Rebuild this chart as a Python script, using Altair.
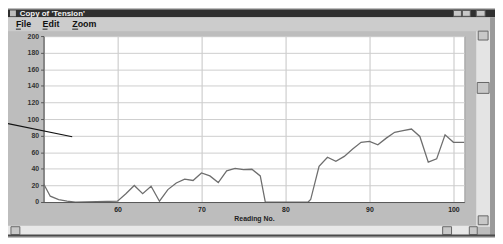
import altair as alt
import pandas as pd

# ---- data ----
readings = [51.2, 52, 53, 54, 55, 60, 61, 62, 63, 64, 65, 66, 67, 68, 69, 70,
            71, 72, 73, 74, 75, 76, 77, 77.6, 82.7, 83, 84, 85, 86, 87, 88, 89,
            90, 91, 92, 93, 94, 95, 96, 97, 98, 99, 100, 101, 101.3]
tension = [22, 7, 3, 1, 0, 1, 10, 20, 10, 19, 1, 15, 23, 27.5, 26, 35,
           31.5, 23.5, 37.5, 40.5, 39, 39.5, 31.5, 0, 0, 3, 43, 54, 49, 55, 64, 72,
           73, 69, 77, 84, 86, 88, 79, 48, 52, 81, 72, 72, 72]
x_ticks = [60, 70, 80, 90, 100]
y_ticks = [0, 20, 40, 60, 80, 100, 120, 140, 160, 180, 200]
window_title = "Copy of 'Tension'"
menu_items = ["File", "Edit", "Zoom"]
x_title = "Reading No."

df = pd.DataFrame({"reading": readings, "tension": tension})

# plot area origin in page pixels
OX, OY = 44, 35
W, H = 426, 168
FONT = "Liberation Sans"

dummy = pd.DataFrame({"d": [0]})


def box(x0, y0, x1, y1, color, stroke=None):
    kw = {"color": color}
    if stroke:
        kw["stroke"] = stroke
        kw["strokeWidth"] = 1
    return alt.Chart(dummy).mark_rect(**kw).encode(
        x=alt.value(x0 - OX), x2=alt.value(x1 - OX),
        y=alt.value(y0 - OY), y2=alt.value(y1 - OY))


def label(txt, x, y, color="#111", size=9, weight="bold"):
    return alt.Chart(dummy).mark_text(
        text=txt, align="left", baseline="middle", font=FONT,
        fontSize=size, fontWeight=weight, color=color).encode(
        x=alt.value(x - OX), y=alt.value(y - OY))


def seg(x0, y0, x1, y1, color, width=1):
    return alt.Chart(dummy).mark_rule(color=color, strokeWidth=width).encode(
        x=alt.value(x0 - OX), x2=alt.value(x1 - OX),
        y=alt.value(y0 - OY), y2=alt.value(y1 - OY))


chrome = [
    # title bar
    box(8, 8, 503, 16, "#2f2f2f"),
    box(10, 9, 16, 15, "#bdbdbd"),
    label(window_title, 20, 12.5, color="#f2f2f2", size=8),
    box(459, 9, 467, 15, "#c8c8c8", "#555"),
    box(468, 9, 476, 15, "#c8c8c8", "#555"),
    box(482, 9, 491, 15, "#c8c8c8", "#555"),
    # menu bar
    box(8, 16, 503, 30, "#cccccc"),
    label(menu_items[0], 16, 22.5),
    label(menu_items[1], 43, 22.5),
    label(menu_items[2], 73, 22.5),
    seg(16, 28, 21, 28, "#222"),
    seg(43, 28, 48, 28, "#222"),
    seg(73, 28, 79, 28, "#222"),
    # vertical scrollbar
    box(482, 30, 496, 228, "#e4e4e4"),
    box(484, 30, 494, 39, "#c8c8c8", "#666"),
    box(483, 82, 495, 93, "#c8c8c8", "#666"),
    box(484, 217, 494, 226, "#c8c8c8", "#666"),
    box(496, 16, 503, 238, "#9a9a9a"),
    # horizontal scrollbar
    box(8, 227, 482, 237, "#e8e8e8"),
    box(11, 228, 20, 236, "#c8c8c8", "#666"),
    box(448, 228, 457, 236, "#c8c8c8", "#666"),
    box(475, 228, 483, 236, "#c8c8c8", "#666"),
    box(8, 236, 503, 238, "#4a4a4a"),
]

line = alt.Chart(df).mark_line(color="#6e6e6e", strokeWidth=1.3, clip=True).encode(
    x=alt.X("reading:Q",
            scale=alt.Scale(domain=[51.2, 101.3], nice=False, zero=False),
            axis=alt.Axis(values=x_ticks, title=x_title, grid=True,
                          gridColor="#c4c4c4", labelFont=FONT, labelFontSize=7,
                          labelFontWeight="bold", labelColor="#222",
                          domainColor="#555", tickSize=0, labelPadding=4,
                          titleFont=FONT, titleFontSize=7, titleFontWeight="bold",
                          titleColor="#222", titlePadding=2)),
    y=alt.Y("tension:Q",
            scale=alt.Scale(domain=[0, 200], nice=False),
            axis=alt.Axis(values=y_ticks, title=None, grid=True,
                          gridColor="#cdcdcd", labelFont=FONT, labelFontSize=7,
                          labelFontWeight="bold", labelColor="#333",
                          domainColor="#555", tickColor="#555", tickSize=3,
                          labelPadding=2)),
)

pointer = seg(8, 123.6, 73, 137, "#111", 1.1)

chart = alt.layer(*chrome, line, pointer).properties(
    width=W, height=H,
    background="#bdbdbd",
    padding={"left": 36, "top": 27, "right": 31, "bottom": 35},
    autosize=alt.AutoSizeParams(type="none"),
).configure_view(fill="white", stroke="#9a9a9a")

chart.save("out.html", embed_options={"renderer": "svg", "actions": False})
